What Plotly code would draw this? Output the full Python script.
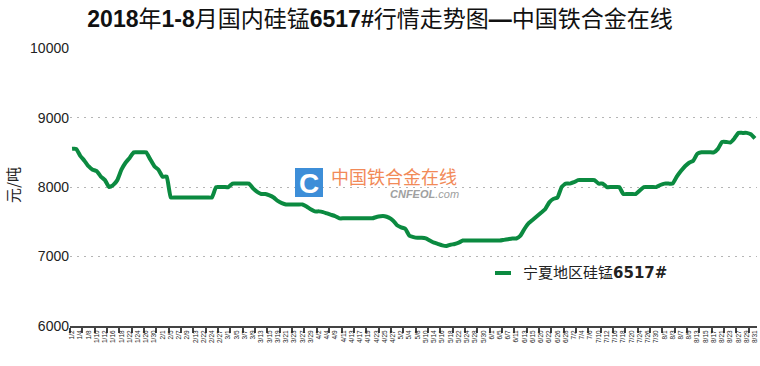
import plotly.graph_objects as go

# ---- data ----
jan_days = [2, 3, 4, 5, 8, 9, 10, 11, 12, 15, 16, 17, 18, 19, 22, 23, 24, 25, 26, 29, 30, 31]
feb_days = [1, 2, 5, 6, 7, 8, 9, 12, 13, 14, 22, 23, 24, 26, 27, 28]
mar_days = [1, 2, 5, 6, 7, 8, 9, 12, 13, 14, 15, 16, 19, 20, 21, 22, 23, 26, 27, 28, 29, 30]
apr_days = [2, 3, 4, 8, 9, 10, 11, 12, 13, 16, 17, 18, 19, 20, 23, 24, 25, 26, 27, 28]
may_days = [2, 3, 4, 7, 8, 9, 10, 11, 14, 15, 16, 17, 18, 21, 22, 23, 24, 25, 28, 29, 30, 31]
jun_days = [1, 4, 5, 6, 7, 8, 11, 12, 13, 14, 15, 19, 20, 21, 22, 25, 26, 27, 28, 29]
jul_days = [2, 3, 4, 5, 6, 9, 10, 11, 12, 13, 16, 17, 18, 19, 20, 23, 24, 25, 26, 27, 30, 31]
aug_days = [1, 2, 3, 6, 7, 8, 9, 10, 13, 14, 15, 16, 17, 20, 21, 22, 23, 24, 27, 28, 29, 30, 31]

prices = [
    8550, 8550, 8450, 8380, 8300, 8250, 8230, 8150, 8100, 8000, 8030, 8100, 8250, 8350, 8420,
    8500, 8500, 8500, 8500, 8400, 8300, 8250, 8150, 8150, 7850,
    7850, 7850, 7850, 7850, 7850, 7850, 7850, 7850, 7850, 7850,
    8000, 8000, 8000, 8000, 8050, 8050, 8050, 8050, 8050,
    7980, 7930, 7900, 7900, 7880, 7850, 7800, 7770,
    7750, 7750, 7750, 7750, 7750,
    7720, 7680, 7650, 7650, 7640, 7620, 7600, 7580, 7550,
    7550, 7550, 7550, 7550, 7550, 7550, 7550, 7550,
    7570, 7580, 7580, 7560, 7520, 7450, 7420, 7400, 7300, 7280, 7270, 7270, 7260, 7230, 7200,
    7180, 7160, 7150, 7170, 7180, 7200, 7230,
    7230, 7230, 7230, 7230, 7230, 7230, 7230, 7230, 7230,
    7240, 7250, 7260, 7260, 7300, 7400, 7480, 7530, 7580, 7630,
    7680, 7780, 7830, 7850, 8000, 8050, 8050, 8070, 8100,
    8100, 8100, 8100, 8100, 8050, 8050, 8000, 8000, 8000, 8000,
    7900, 7900, 7900, 7900, 7950, 8000, 8000, 8000, 8000,
    8030, 8050, 8050, 8050, 8150, 8230, 8300, 8350, 8380, 8480,
    8500, 8500, 8500, 8500, 8550, 8650, 8650, 8640, 8700, 8780, 8780, 8780, 8760, 8700,
]

y_ticks = [6000, 7000, 8000, 9000, 10000]
y_tick_labels = ["6000", "7000", "8000", "9000", "10000"]
series_name = "宁夏地区硅锰<b>6517#</b>"
title_text = "<b>2018</b>年<b>1-8</b>月国内硅锰<b>6517#</b>行情走势图<b>—</b>中国铁合金在线"
y_title = "元/吨"

months = [(1, jan_days), (2, feb_days), (3, mar_days), (4, apr_days),
          (5, may_days), (6, jun_days), (7, jul_days), (8, aug_days)]
categories = [f"{m}/{d}" for m, days in months for d in days]
n = min(len(categories), len(prices))
categories = categories[:n]
prices = prices[:n]
xs = list(range(n))

# ---- layout geometry ----
W, H = 760, 366
L, R, T, B = 70, 3, 48, 40
PW, PH = W - L - R, H - T - B


def px_x(p):
    return (p - L) / PW


def px_y(p):
    return (H - B - p) / PH


GREEN = "#0b8a40"

fig = go.Figure()
fig.add_trace(go.Scatter(
    x=xs, y=prices, mode="lines", name=series_name,
    line=dict(color=GREEN, width=4, shape="spline", smoothing=0.4),
    showlegend=False, hoverinfo="x+y", cliponaxis=False,
))

tick_idx = xs[::2]
fig.update_layout(
    width=W, height=H,
    margin=dict(l=L, r=R, t=T, b=B, pad=0, autoexpand=False),
    paper_bgcolor="white", plot_bgcolor="white",
    title=dict(text=title_text, x=0.5, xref="container", xanchor="center",
               y=1 - 19 / H, yref="container", yanchor="middle",
               font=dict(family="Liberation Sans, Noto Sans CJK SC", size=23, color="#111")),
    xaxis=dict(
        range=[-0.5, n - 0.5], showgrid=False, zeroline=False, automargin=False,
        showline=True, linecolor="#444", linewidth=1.5,
        tickmode="array", tickvals=tick_idx, ticktext=[categories[i] for i in tick_idx],
        ticks="", tickangle=-90,
        tickfont=dict(family="Liberation Sans, Noto Sans CJK SC", size=6.5, color="#222"),
        minor=dict(ticks="outside", ticklen=5, tickcolor="#444", tickwidth=1.5,
                   tickmode="linear", tick0=-0.5, dtick=3, showgrid=False),
    ),
    yaxis=dict(
        range=[6000, 10002], tickmode="array", tickvals=y_ticks, ticktext=y_tick_labels,
        showgrid=True, gridcolor="#b5b5b5", gridwidth=1.2, griddash="2px,5px",
        zeroline=False, showline=False, ticks="", automargin=False,
        tickfont=dict(family="Liberation Sans", size=14, color="#222"),
    ),
    font=dict(family="Liberation Sans, Noto Sans CJK SC"),
)

# y-axis title
fig.add_annotation(text=y_title, xref="paper", yref="paper", x=px_x(12), y=px_y(185),
                   xanchor="center", yanchor="middle",
                   showarrow=False, textangle=-90,
                   font=dict(family="Noto Sans CJK SC", size=15, color="#222"))

# legend (drawn manually)
fig.add_shape(type="line", xref="paper", yref="paper",
              x0=px_x(495), x1=px_x(511), y0=px_y(273), y1=px_y(273),
              line=dict(color=GREEN, width=4))
fig.add_annotation(text=series_name, xref="paper", yref="paper", x=px_x(521), y=px_y(273),
                   xanchor="left", yanchor="middle", showarrow=False,
                   font=dict(family="DejaVu Sans, Noto Sans CJK SC", size=15, color="#222"))

# watermark
fig.add_shape(type="rect", xref="paper", yref="paper",
              x0=px_x(295), x1=px_x(323), y0=px_y(197), y1=px_y(168),
              fillcolor="#3d8ed8", line=dict(width=0), layer="above")
fig.add_annotation(text="<b>C</b>", xref="paper", yref="paper", x=px_x(309), y=px_y(183),
                   showarrow=False, xanchor="center", yanchor="middle",
                   font=dict(family="Liberation Sans", size=28, color="white"))
fig.add_annotation(text="中国铁合金在线", xref="paper", yref="paper", x=px_x(329), y=px_y(176),
                   showarrow=False, xanchor="left", yanchor="middle",
                   font=dict(family="Noto Sans CJK SC", size=18, color="#f28a58"))
fig.add_annotation(text="<b><i>CNFEOL</i></b><i>.com</i>", xref="paper", yref="paper",
                   x=px_x(388), y=px_y(194), showarrow=False, xanchor="left", yanchor="middle",
                   font=dict(family="Liberation Sans", size=11, color="#a0a0a0"))

fig.write_html("out.html",
               config={"displayModeBar": False},
               post_script="document.body.style.margin='0';document.body.style.padding='0';")
